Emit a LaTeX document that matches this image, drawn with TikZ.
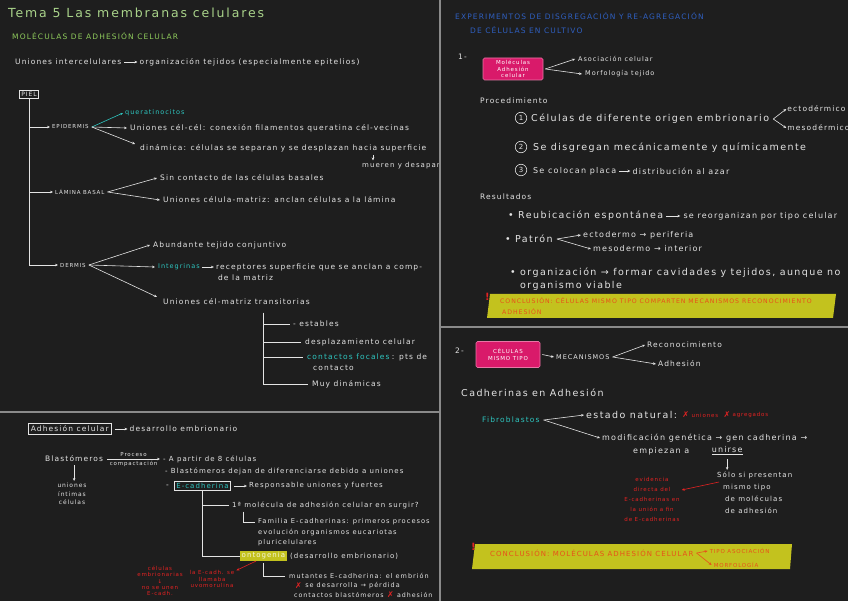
\documentclass[tikz,border=0pt]{standalone}
\usepackage{fontspec}
\setmainfont{DejaVu Sans}[LetterSpace=15]
\usetikzlibrary{arrows.meta}
\definecolor{bg}{HTML}{1E1E1E}
\definecolor{fg}{HTML}{E4E4E4}
\definecolor{ttl}{HTML}{A9D38A}
\definecolor{grn}{HTML}{8FCB5C}
\definecolor{cyn}{HTML}{2EC6C0}
\definecolor{blu}{HTML}{2F5FC0}
\definecolor{mag}{HTML}{D91A6A}
\definecolor{yel}{HTML}{C3C21E}
\definecolor{org}{HTML}{E8501A}
\definecolor{rd}{HTML}{E32222}
\definecolor{pan}{HTML}{8A8A8A}
\tikzset{
  tx/.style={anchor=west, inner sep=0pt, text=fg, font=\fontsize{7.5}{9}\selectfont},
  smt/.style={tx, font=\fontsize{7}{8.5}\selectfont},
  capt/.style={tx, font=\fontsize{5.5}{7}\selectfont},
  bigt/.style={tx, font=\fontsize{9.5}{11}\selectfont},
  midt/.style={tx, font=\fontsize{8}{9.5}\selectfont},
  lab/.style={inner sep=0pt, text=fg, font=\fontsize{5.5}{6}\selectfont},
  arr/.style={draw=fg, line width=0.6pt, -{Stealth[length=3pt,width=2.6pt]}},
  ln/.style={draw=fg, line width=0.6pt},
  panel/.style={draw=pan, line width=1.6pt},
  num/.style={circle, draw=fg, line width=0.6pt, inner sep=0.5pt, minimum size=11.5pt, text=fg, font=\fontsize{7}{7}\selectfont},
  magbox/.style={fill=mag, draw=mag!60!white, line width=0.6pt, rounded corners=1.5pt, text=white, align=center, inner sep=2pt, font=\fontsize{5.5}{6.5}\selectfont},
  yelt/.style={tx, text=org, font=\fontsize{6.2}{7.5}\selectfont},
  redt/.style={inner sep=0pt, text=rd, align=center, font=\fontsize{5.5}{6.3}\selectfont},
  redx/.style={tx, text=rd, font=\fontsize{8}{8}\selectfont\bfseries},
}
\begin{document}
\begin{tikzpicture}[x=1pt,y=-1pt]
\fill[bg] (0,0) rectangle (848,601);
\useasboundingbox (0,0) rectangle (848,601);

% panel lines
\draw[panel] (440,0) -- (440,601);
\draw[panel] (0,412) -- (440,412);
\draw[panel] (440,327) -- (848,327);

% ===== left top =====
\node[tx, text=ttl, font=\fontsize{12.5}{14}\selectfont] (title) at (8,13) {Tema 5 Las membranas celulares};
\node[tx, text=grn, font=\fontsize{7.5}{9}\selectfont] (sub) at (12,36) {MOLÉCULAS DE ADHESIÓN CELULAR};
\node[tx] (uint) at (15,62) {Uniones intercelulares};
\node[tx] (orgt) at ([xshift=18pt]uint.east) {organización tejidos (especialmente epitelios)};
\draw[arr] ([xshift=3pt]uint.east) -- ([xshift=-2pt]orgt.west);

\node[draw=fg, line width=0.6pt, inner sep=2pt, text=fg, font=\fontsize{6}{6}\selectfont] (piel) at (29,94.5) {PIEL};
\node[capt] (epi) at (52,127) {EPIDERMIS};
\node[capt] (lam) at (55,192) {LÁMINA BASAL};
\node[capt] (derm) at (60,265) {DERMIS};
\draw[arr] (piel.south) |- ([xshift=-2pt]epi.west);
\draw[arr] (piel.south) |- ([xshift=-2pt]lam.west);
\draw[arr] (piel.south) |- ([xshift=-2pt]derm.west);

% epidermis
\node[tx, text=cyn, font=\fontsize{6.5}{7}\selectfont] (quer) at (125,113) {queratinocitos};
\node[tx] (ucc) at (130,128) {Uniones cél-cél: conexión filamentos queratina cél-vecinas};
\node[tx] (din) at (140,148) {dinámica: células se separan y se desplazan hacia superficie};
\draw[arr, draw=cyn] ([xshift=3pt]epi.east) -- ([xshift=-2pt]quer.west);
\draw[arr] ([xshift=3pt]epi.east) -- ([xshift=-3pt]ucc.west);
\draw[arr] ([xshift=3pt]epi.east) -- ([xshift=-5pt,yshift=4pt]din.west);
\begin{scope}
\clip (0,0) rectangle (438,412);
\node[smt] (mue) at (362,166) {mueren y desaparecen};
\end{scope}
\draw[arr] ([xshift=11pt,yshift=-3pt]mue.north west |- din.south) -- ([xshift=11pt,yshift=2pt]mue.north west);

% lamina basal
\node[tx] (sin) at (160,178) {Sin contacto de las células basales};
\node[tx] (ucm) at (163,200) {Uniones célula-matriz: anclan células a la lámina};
\draw[arr] ([xshift=3pt]lam.east) -- ([xshift=-3pt]sin.west);
\draw[arr] ([xshift=3pt]lam.east) -- ([xshift=-3pt]ucm.west);

% dermis
\node[tx] (abu) at (153,245) {Abundante tejido conjuntivo};
\node[tx, text=cyn, font=\fontsize{6.5}{7}\selectfont] (integ) at (158,267) {Integrinas};
\node[tx] (rec) at ([xshift=16pt]integ.east) {receptores superficie que se anclan a comp-};
\node[tx] (rec2) at ([xshift=2pt,yshift=-11pt]rec.west) {de la matriz};
\draw[arr] ([xshift=2pt]integ.east) -- ([xshift=-2pt]rec.west);
\node[tx] (ucmt) at (163,302) {Uniones cél-matriz transitorias};
\draw[arr] ([xshift=3pt]derm.east) -- ([xshift=-3pt]abu.west);
\draw[arr] ([xshift=3pt]derm.east) -- ([xshift=-3pt]integ.west);
\draw[arr] ([xshift=3pt]derm.east) -- ([xshift=-6pt,yshift=5pt]ucmt.west);

% tree under transitorias
\coordinate (tr) at (263,313);
\node[tx] (est) at (293,324) {- estables};
\node[tx] (desp) at (305,342) {desplazamiento celular};
\node[tx, text=cyn] (cfoc) at (307,357) {contactos focales};
\node[tx] (pts) at ([xshift=2pt]cfoc.east) {: pts de};
\node[tx] (cont) at (313,368) {contacto};
\node[tx] (muy) at (312,384) {Muy dinámicas};
\draw[ln] (tr) |- ([xshift=-3pt]est.west);
\draw[ln] (tr) |- ([xshift=-4pt]desp.west);
\draw[ln] (tr) |- ([xshift=-4pt]cfoc.west);
\draw[ln] (tr) |- ([xshift=-4pt]muy.west);

% ===== left bottom =====
\node[tx, draw=fg, line width=0.6pt, inner sep=2.5pt] (adh) at (28,429) {Adhesión celular};
\node[tx] (desa) at ([xshift=18pt]adh.east) {desarrollo embrionario};
\draw[arr] ([xshift=3pt]adh.east) -- ([xshift=-2pt]desa.west);

\node[tx] (blast) at (45,459) {Blastómeros};
\node[smt] (a8) at (163,459) {- A partir de 8 células};
\draw[arr] ([xshift=4pt]blast.east) -- node[lab, above=2pt]{Proceso} node[lab, below=2pt]{compactación} ([xshift=-3pt]a8.west);
\node[smt] (bdej) at (165,471) {- Blastómeros dejan de diferenciarse debido a uniones};
\node[tx, anchor=north, align=center, font=\fontsize{6}{8.5}\selectfont] (unis) at (72,483) {uniones\\íntimas\\células};
\draw[arr] ([yshift=-3pt]blast.south) -- ([yshift=2pt]blast.south |- unis.north);

\node[tx] (ecdash) at (166,486) {-};
\node[tx, draw=fg, text=cyn, inner sep=2pt, line width=0.6pt, font=\fontsize{7}{8}\selectfont] (ecad) at (174,486) {E-cadherina};
\node[smt] (resp) at ([xshift=18pt]ecad.east) {Responsable uniones y fuertes};
\draw[arr] ([xshift=3pt]ecad.east) -- ([xshift=-2pt]resp.west);

\node[smt] (mol) at (232,505) {1ª molécula de adhesión celular en surgir?};
\draw[ln] (ecad.south) |- ([xshift=-3pt]mol.west);
\node[tx, font=\fontsize{6.7}{8}\selectfont] (fam1) at (258,522) {Familia E-cadherinas: primeros procesos};
\node[tx, font=\fontsize{6.7}{8}\selectfont] (fam2) at (258,533) {evolución organismos eucariotas};
\node[tx, font=\fontsize{6.7}{8}\selectfont] (fam3) at (258,543) {pluricelulares};
\draw[ln] ([xshift=11pt,yshift=-3pt]mol.south west) |- ([xshift=-3pt]fam1.west);

\node[tx, fill=yel, text=white!85!yel, inner sep=1.5pt, font=\fontsize{7}{8}\selectfont] (onto) at (240,556) {ontogenia};
\draw[ln] (ecad.south) |- (onto.west);
\node[smt] (desemb) at ([xshift=3pt]onto.east) {(desarrollo embrionario)};
\node[tx, font=\fontsize{6.5}{7.5}\selectfont] (mut) at (289,576) {mutantes E-cadherina: el embrión};
\draw[ln] ([yshift=-2pt]onto.south) |- ([xshift=-4pt]mut.west);
\node[redx] (x1) at (295,586) {✗};
\node[tx, font=\fontsize{6.5}{7.5}\selectfont] (mut2) at ([xshift=3pt]x1.east) {se desarrolla → pérdida};
\node[tx, font=\fontsize{6.3}{7.5}\selectfont] (mut3) at (294,595) {contactos blastómeros};
\node[redx] (x2) at ([xshift=3pt]mut3.east) {✗};
\node[tx, font=\fontsize{6.3}{7.5}\selectfont] (mut4) at ([xshift=3pt]x2.east) {adhesión};

\node[redt] (redA) at (160,581) {células\\embrionarias\\↓\\no se unen\\E-cadh.};
\node[redt] (redB) at (212,579) {la E-cadh. se\\llamaba\\uvomorulina};
\draw[arr, draw=rd] ([xshift=16pt]onto.south west) -- ([xshift=2pt]redB.north east);

% ===== right top =====
\node[tx, text=blu, font=\fontsize{7.5}{9}\selectfont] (bt1) at (455,16) {EXPERIMENTOS DE DISGREGACIÓN Y RE-AGREGACIÓN};
\node[tx, text=blu, font=\fontsize{7.5}{9}\selectfont] (bt2) at (470,30) {DE CÉLULAS EN CULTIVO};
\node[tx] (one) at (458,57) {1-};
\node[magbox, minimum width=60pt, minimum height=22pt] (m1) at (513,69) {Moléculas\\Adhesión\\celular};
\node[tx, font=\fontsize{6.5}{7}\selectfont] (asoc) at (578,59) {Asociación celular};
\node[tx, font=\fontsize{6.5}{7}\selectfont] (morf) at (585,74) {Morfología tejido};
\draw[arr] ([xshift=2pt]m1.east) -- ([xshift=-3pt]asoc.west);
\draw[arr] ([xshift=2pt]m1.east) -- ([xshift=-3pt]morf.west);

\node[tx] (proc) at (480,101) {Procedimiento};
\node[num] (n1) at (521,118) {1};
\node[bigt] (p1) at (531,119) {Células de diferente origen embrionario};
\node[tx] (ecto) at ([xshift=18pt,yshift=10pt]p1.east) {ectodérmico};
\node[tx] (meso) at ([xshift=18pt,yshift=-9pt]p1.east) {mesodérmico};
\draw[arr] ([xshift=4pt]p1.east) -- ([xshift=-1pt]ecto.west);
\draw[arr] ([xshift=4pt]p1.east) -- ([xshift=-1pt]meso.west);
\node[num] (n2) at (521,147) {2};
\node[bigt] (p2) at (533,148) {Se disgregan mecánicamente y químicamente};
\node[num] (n3) at (521,170) {3};
\node[midt] (p3) at (533,171) {Se colocan placa};
\node[midt] (p3b) at ([xshift=16pt]p3.east) {distribución al azar};
\draw[arr] ([xshift=3pt]p3.east) -- ([xshift=-2pt]p3b.west);

\node[tx] (resu) at (480,197) {Resultados};
\node[bigt] (r1) at (508,216) {• Reubicación espontánea};
\node[midt] (r1b) at ([xshift=20pt]r1.east) {se reorganizan por tipo celular};
\draw[arr] ([xshift=3pt]r1.east) -- ([xshift=-3pt]r1b.west);
\node[bigt] (r2) at (505,239) {• Patrón};
\node[midt] (ecd) at ([xshift=30pt,yshift=4pt]r2.east) {ectodermo → periferia};
\node[midt] (msd) at ([xshift=40pt,yshift=-10pt]r2.east) {mesodermo → interior};
\draw[arr] ([xshift=4pt]r2.east) -- ([xshift=-2pt]ecd.west);
\draw[arr] ([xshift=4pt]r2.east) -- ([xshift=-2pt]msd.west);
\node[bigt] (r3) at (510,273) {• organización → formar cavidades y tejidos, aunque no};
\node[bigt] (r3b) at (520,286) {organismo viable};

\fill[yel] (490,294) -- (836,294) -- (833,318) -- (487,318) -- cycle;
\node[yelt] (c1a) at (500,301) {CONCLUSIÓN: CÉLULAS MISMO TIPO COMPARTEN MECANISMOS RECONOCIMIENTO};
\node[yelt] (c1b) at (502,312) {ADHESIÓN};
\node[redx, font=\fontsize{10}{10}\selectfont\bfseries] (ex1) at (485,297) {!};

% ===== right bottom =====
\node[tx] (two) at (455,351) {2-};
\node[magbox, minimum width=64pt, minimum height=26pt] (m2) at (508,354.5) {CÉLULAS\\MISMO TIPO};
\node[tx, font=\fontsize{6.5}{7}\selectfont] (mec) at (556,357) {MECANISMOS};
\draw[arr] ([xshift=2pt]m2.east) -- ([xshift=-2pt]mec.west);
\node[tx] (reco) at (647,345) {Reconocimiento};
\node[tx] (adhs) at (658,364) {Adhesión};
\draw[arr] ([xshift=3pt]mec.east) -- ([xshift=-2pt]reco.west);
\draw[arr] ([xshift=3pt]mec.east) -- ([xshift=-2pt]adhs.west);

\node[bigt] (cad) at (461,393) {Cadherinas en Adhesión};
\node[tx, text=cyn] (fib) at (482,420) {Fibroblastos};
\node[bigt] (estn) at (586,415) {estado natural:};
\node[redx] (xa) at ([xshift=5pt]estn.east) {✗};
\node[tx, text=rd, font=\fontsize{5.5}{6}\selectfont] (xa1) at ([xshift=2pt]xa.east) {uniones};
\node[redx] (xb) at ([xshift=5pt]xa1.east) {✗};
\node[tx, text=rd, font=\fontsize{5.5}{6}\selectfont] (xb1) at ([xshift=2pt]xb.east) {agregados};
\node[midt] (modg) at (602,438) {modificación genética → gen cadherina →};
\draw[arr] ([xshift=4pt]fib.east) -- ([xshift=-2pt]estn.west);
\draw[arr] ([xshift=4pt]fib.east) -- ([xshift=-2pt]modg.west);
\node[midt] (emp) at (633,451) {empiezan a};
\node[midt] (un) at ([xshift=22pt]emp.east) {\underline{unirse}};
\node[tx, anchor=north west, align=left, font=\fontsize{7}{12}\selectfont] (solo) at (717,472) {Sólo si presentan\\\hspace*{6pt}mismo tipo\\\hspace*{8pt}de moléculas\\\hspace*{8pt}de adhesión};
\draw[arr] ([yshift=-4pt]un.south) -- ([yshift=2pt]un.south |- solo.north);

\node[redt, font=\fontsize{5.5}{10}\selectfont] (redC) at (652,499) {evidencia\\directa del\\E-cadherinas en\\la unión a fin\\de E-cadherinas};
\draw[arr, draw=rd] ([xshift=2pt,yshift=-10pt]solo.north west) -- ([xshift=2pt,yshift=9pt]redC.east);

\fill[yel] (475,544) -- (792,544) -- (790,569) -- (472,569) -- cycle;
\node[yelt, font=\fontsize{7}{8}\selectfont] (c2) at (490,553) {CONCLUSIÓN: MOLÉCULAS ADHESIÓN CELULAR};
\node[yelt, font=\fontsize{5.5}{6}\selectfont] (tas) at ([xshift=16pt,yshift=2pt]c2.east) {TIPO ASOCIACIÓN};
\node[yelt, font=\fontsize{5.5}{6}\selectfont] (mor) at ([xshift=20pt,yshift=-12pt]c2.east) {MORFOLOGÍA};
\draw[arr, draw=org] ([xshift=3pt]c2.east) -- ([xshift=-2pt]tas.west);
\draw[arr, draw=org] ([xshift=3pt]c2.east) -- ([xshift=-2pt]mor.west);
\node[redx, font=\fontsize{10}{10}\selectfont\bfseries] (ex2) at (471,547) {!};
\end{tikzpicture}
\end{document}
